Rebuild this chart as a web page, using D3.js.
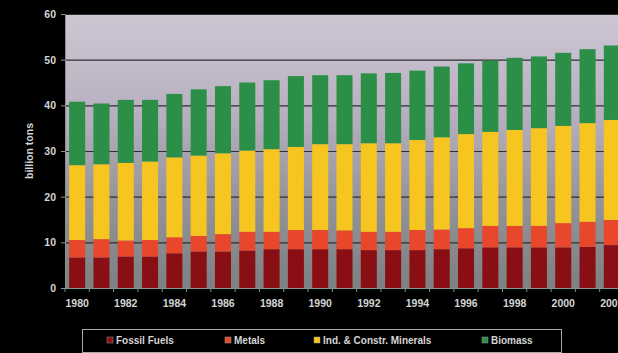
<!DOCTYPE html>
<html>
<head>
<meta charset="utf-8">
<script src="https://d3js.org/d3.v7.min.js"></script>
<style>
  body { margin: 0; background: #000; }
  svg { display: block; }
  text { font-family: "Liberation Sans", Arial, sans-serif; }
</style>
</head>
<body>
<div id="chart"></div>
<script>
var years = [1980, 1981, 1982, 1983, 1984, 1985, 1986, 1987, 1988, 1989, 1990, 1991,
             1992, 1993, 1994, 1995, 1996, 1997, 1998, 1999, 2000, 2001, 2002];
var seriesNames = ["Fossil Fuels", "Metals", "Ind. & Constr. Minerals", "Biomass"];
var fossil   = [6.7, 6.7, 6.9, 6.9, 7.6, 8.0, 8.0, 8.2, 8.5, 8.5, 8.5, 8.5, 8.3, 8.3, 8.3, 8.5, 8.7, 8.9, 8.9, 8.9, 8.9, 9.0, 9.4];
var metals   = [3.8, 4.0, 3.5, 3.6, 3.5, 3.4, 3.8, 4.1, 3.8, 4.2, 4.2, 4.1, 4.0, 4.0, 4.4, 4.3, 4.4, 4.7, 4.7, 4.7, 5.3, 5.5, 5.5];
var minerals = [16.4, 16.4, 17.0, 17.2, 17.5, 17.6, 17.7, 17.8, 18.1, 18.2, 18.8, 18.9, 19.4, 19.4, 19.7, 20.2, 20.6, 20.6, 21.0, 21.4, 21.3, 21.6, 21.9];
var biomass  = [13.9, 13.3, 13.8, 13.5, 13.9, 14.5, 14.7, 14.9, 15.1, 15.5, 15.1, 15.1, 15.3, 15.4, 15.2, 15.5, 15.5, 15.6, 15.8, 15.7, 16.0, 16.2, 16.3];
var yTicks = [0, 10, 20, 30, 40, 50, 60];
var colors = ["#8a0f14", "#e8472b", "#f6c51f", "#2b8f47"];

var width = 618, height = 353;
var plotLeft = 65, plotTop = 14, plotW = 559, plotH = 274;

var rows = years.map(function(y, i) {
    return { year: y, "Fossil Fuels": fossil[i], "Metals": metals[i],
             "Ind. & Constr. Minerals": minerals[i], "Biomass": biomass[i] };
});
var stacked = d3.stack().keys(seriesNames)(rows);

var svg = d3.select("#chart").append("svg")
    .attr("width", width)
    .attr("height", height);

svg.append("rect").attr("width", width).attr("height", height).attr("fill", "#000");

var grad = svg.append("defs").append("linearGradient")
    .attr("id", "bg").attr("x1", 0).attr("y1", 0).attr("x2", 0).attr("y2", 1);
grad.append("stop").attr("offset", "0%").attr("stop-color", "#cdc6d3");
grad.append("stop").attr("offset", "35%").attr("stop-color", "#b9b1c1");
grad.append("stop").attr("offset", "70%").attr("stop-color", "#929298");
grad.append("stop").attr("offset", "100%").attr("stop-color", "#7d8183");

var x = d3.scaleBand().domain(years).range([plotLeft, plotLeft + plotW]).paddingInner(0.34).paddingOuter(0.17);
var y = d3.scaleLinear().domain([0, 60]).range([plotTop + plotH, plotTop]);

svg.append("rect")
    .attr("x", plotLeft).attr("y", plotTop)
    .attr("width", plotW).attr("height", plotH)
    .attr("fill", "url(#bg)");

// gridlines
svg.append("g").selectAll("line")
    .data(yTicks.filter(function(d) { return d > 0; }))
    .join("line")
    .attr("x1", plotLeft).attr("x2", plotLeft + plotW)
    .attr("y1", function(d) { return y(d) + 0.5; })
    .attr("y2", function(d) { return y(d) + 0.5; })
    .attr("stroke", "#2e2e33")
    .attr("stroke-width", 1.2);

// bars
svg.append("g").selectAll("g")
    .data(stacked)
    .join("g")
    .attr("fill", function(d, i) { return colors[i]; })
    .selectAll("rect")
    .data(function(d) { return d; })
    .join("rect")
    .attr("x", function(d) { return x(d.data.year); })
    .attr("width", x.bandwidth())
    .attr("y", function(d) { return y(d[1]); })
    .attr("height", function(d) { return y(d[0]) - y(d[1]); });

// y axis
var yAxis = svg.append("g")
    .attr("transform", "translate(" + plotLeft + ",0)")
    .call(d3.axisLeft(y).tickValues(yTicks).tickSize(4).tickPadding(5));
yAxis.select(".domain").attr("stroke", "#8a9290");
yAxis.selectAll(".tick line").attr("stroke", "#8a9290");
yAxis.selectAll("text").attr("fill", "#d4d4d4").attr("font-size", 10.5).attr("font-weight", "bold");

// x axis
var step = x.step();
var xAxis = svg.append("g")
    .attr("transform", "translate(0," + (plotTop + plotH) + ")")
    .call(d3.axisBottom(x).tickSize(0).tickPadding(12)
        .tickValues(years.filter(function(d, i) { return i % 2 === 0; })));
xAxis.select(".domain").attr("stroke", "#8a9290");
xAxis.selectAll("text").attr("fill", "#d4d4d4").attr("font-size", 10.5).attr("font-weight", "bold");
xAxis.selectAll(".sep").data(d3.range(years.length + 1)).join("line")
    .attr("class", "sep")
    .attr("x1", function(i) { return plotLeft + i * step; })
    .attr("x2", function(i) { return plotLeft + i * step; })
    .attr("y1", 0).attr("y2", 4)
    .attr("stroke", "#6f9a90");

// y title
svg.append("text")
    .attr("transform", "translate(33," + (plotTop + plotH / 2) + ") rotate(-90)")
    .attr("text-anchor", "middle")
    .attr("fill", "#d4d4d4")
    .attr("font-size", 10.5)
    .attr("font-weight", "bold")
    .text("billion tons");

// legend
var legend = svg.append("g");
legend.append("rect")
    .attr("x", 82.5).attr("y", 329.5)
    .attr("width", 479).attr("height", 23)
    .attr("fill", "none").attr("stroke", "#a8a8a8");
var legendX = [107, 225, 314, 482];
var item = legend.selectAll(".item").data(seriesNames).join("g")
    .attr("class", "item")
    .attr("transform", function(d, i) { return "translate(" + legendX[i] + ",340)"; });
item.append("rect")
    .attr("x", 0).attr("y", -3).attr("width", 6).attr("height", 6)
    .attr("fill", function(d, i) { return colors[i]; })
    .attr("stroke", "#999").attr("stroke-width", 0.5);
item.append("text")
    .attr("x", 9).attr("y", 0).attr("dy", "0.35em")
    .attr("fill", "#d4d4d4")
    .attr("font-size", 10)
    .attr("font-weight", "bold")
    .text(function(d) { return d; });
</script>
</body>
</html>
